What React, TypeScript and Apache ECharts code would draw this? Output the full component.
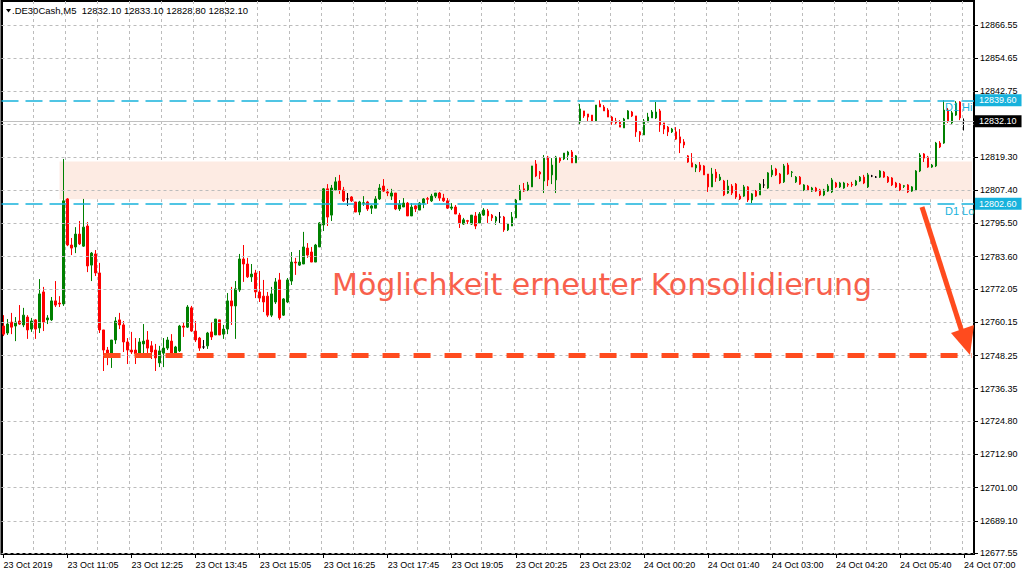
import React, { useEffect, useRef } from 'react';
import * as echarts from 'echarts';

// ---- axis texts ----
const tickLabels = [
  '23 Oct 2019', '23 Oct 11:05', '23 Oct 12:25', '23 Oct 13:45', '23 Oct 15:05',
  '23 Oct 16:25', '23 Oct 17:45', '23 Oct 19:05', '23 Oct 20:25', '23 Oct 23:02',
  '24 Oct 00:20', '24 Oct 01:40', '24 Oct 03:00', '24 Oct 04:20', '24 Oct 05:40', '24 Oct 07:00',
];
const yLabelValues = [
  12866.55, 12854.65, 12842.75, 12819.3, 12807.4, 12795.5, 12783.6, 12772.05,
  12760.15, 12748.25, 12736.35, 12724.8, 12712.9, 12701.0, 12689.1, 12677.55,
];
const yHiddenGridValue = 12830.85;
const Y_MIN = 12677.2;
const Y_MAX = 12875.14;

// ---- levels ----
const d1High = 12839.6;
const d1Low = 12802.6;
const lastPrice = 12832.1;
const targetLevel = 12748.25;
const zoneLow = 12804.2;
const zoneHigh = 12817.7;
const headerText = '.DE30Cash,M5  12832.10 12833.10 12828.80 12832.10';
const noteText = 'Möglichkeit erneuter Konsolidierung';

// ---- candles [open, close, low, high] ----
const morningBars = [
  [12758.8, 12755.9, 12755.2, 12762.7], [12756.3, 12759.5, 12755.6, 12761.3], [12760.2, 12758.4, 12755.9, 12763.5],
  [12758.8, 12760.2, 12753.4, 12762.0], [12760.6, 12759.5, 12759.2, 12766.3], [12759.2, 12762.7, 12758.4, 12765.3],
  [12762.0, 12757.4, 12754.2, 12762.7], [12757.7, 12760.6, 12756.7, 12761.7], [12761.0, 12757.7, 12754.2, 12761.3],
  [12758.1, 12770.3, 12756.3, 12775.6], [12771.0, 12760.2, 12757.0, 12772.8], [12761.0, 12761.7, 12759.5, 12762.7],
  [12761.0, 12767.8, 12760.6, 12769.2], [12767.8, 12766.3, 12765.6, 12774.9], [12767.0, 12766.7, 12765.6, 12769.5],
  [12766.7, 12803.6, 12766.0, 12818.6], [12804.3, 12787.8, 12787.4, 12804.6], [12787.8, 12786.7, 12784.2, 12790.3],
  [12787.1, 12791.7, 12784.9, 12794.2], [12791.7, 12788.2, 12787.8, 12796.4], [12787.4, 12794.2, 12787.1, 12804.3],
  [12794.6, 12780.3, 12778.1, 12796.0], [12780.6, 12784.9, 12774.9, 12785.3], [12784.6, 12777.8, 12776.7, 12786.0],
  [12777.8, 12757.4, 12756.3, 12781.4], [12757.4, 12750.2, 12742.7, 12757.4], [12750.2, 12748.4, 12744.8, 12751.3],
  [12748.4, 12753.8, 12743.8, 12753.8], [12753.8, 12760.6, 12752.4, 12762.0], [12761.0, 12759.2, 12757.7, 12763.5],
  [12759.2, 12753.1, 12749.5, 12760.6], [12753.1, 12750.2, 12745.2, 12754.5], [12750.2, 12749.5, 12748.8, 12756.7],
  [12750.2, 12748.8, 12745.2, 12754.5], [12748.8, 12753.1, 12748.4, 12754.5], [12752.4, 12753.4, 12748.8, 12759.5],
  [12753.8, 12750.9, 12748.8, 12757.0], [12751.7, 12749.5, 12747.0, 12753.4], [12750.2, 12747.4, 12742.7, 12752.4],
  [12745.6, 12749.9, 12744.1, 12751.7], [12749.1, 12750.9, 12744.1, 12754.5], [12750.9, 12753.8, 12750.2, 12754.9],
  [12753.4, 12749.1, 12748.8, 12755.9], [12749.1, 12751.3, 12748.8, 12751.7], [12749.9, 12758.8, 12749.5, 12759.2],
  [12758.8, 12758.4, 12754.9, 12760.2], [12758.4, 12765.6, 12758.1, 12766.3], [12765.3, 12757.0, 12756.7, 12766.0],
  [12757.0, 12753.8, 12753.1, 12760.6], [12754.5, 12750.9, 12749.9, 12754.9], [12751.3, 12751.3, 12750.6, 12753.8],
  [12751.7, 12756.3, 12750.6, 12756.7], [12756.7, 12754.9, 12753.8, 12760.2], [12755.6, 12761.3, 12755.6, 12761.3],
  [12761.0, 12755.6, 12755.6, 12761.0], [12755.9, 12757.7, 12754.2, 12759.2], [12757.7, 12767.8, 12755.9, 12770.6],
  [12767.8, 12766.0, 12759.2, 12772.8], [12766.0, 12772.1, 12754.2, 12774.9], [12771.7, 12782.8, 12771.0, 12784.6],
  [12782.8, 12781.0, 12774.6, 12787.8], [12781.0, 12776.4, 12776.0, 12783.2], [12776.4, 12777.4, 12774.6, 12781.0],
  [12777.8, 12771.0, 12768.8, 12778.9], [12771.0, 12768.8, 12767.4, 12778.5], [12769.5, 12767.4, 12763.8, 12775.3],
  [12769.5, 12762.7, 12762.0, 12771.0], [12762.7, 12770.3, 12762.0, 12772.8], [12767.4, 12774.6, 12766.7, 12776.0],
  [12775.3, 12761.7, 12761.0, 12777.8], [12762.7, 12768.5, 12762.4, 12768.8], [12767.4, 12775.3, 12767.0, 12776.0],
  [12774.9, 12781.7, 12773.5, 12785.3], [12781.7, 12781.4, 12777.1, 12783.2], [12780.6, 12781.7, 12780.3, 12786.0],
  [12781.0, 12787.1, 12781.0, 12792.5], [12786.7, 12784.2, 12783.2, 12788.5], [12785.3, 12781.7, 12781.7, 12787.1],
  [12781.7, 12787.8, 12781.7, 12788.2], [12787.1, 12795.7, 12787.1, 12796.0],
];
const eveningBars = [
  [12795.0, 12807.9, 12792.8, 12808.2], [12807.9, 12797.8, 12794.6, 12809.6], [12798.5, 12808.2, 12796.4, 12809.3],
  [12807.5, 12810.4, 12807.5, 12812.1], [12810.7, 12807.5, 12806.1, 12812.9], [12807.5, 12803.6, 12803.2, 12808.6],
  [12804.3, 12804.3, 12801.8, 12806.4], [12805.0, 12803.6, 12803.2, 12805.3], [12803.2, 12799.6, 12799.6, 12803.2],
  [12799.6, 12803.2, 12798.5, 12803.6], [12802.7, 12802.9, 12801.8, 12805.3], [12803.2, 12800.7, 12800.0, 12803.6],
  [12801.0, 12801.8, 12798.9, 12802.1], [12801.0, 12804.3, 12801.0, 12805.3], [12804.3, 12808.2, 12803.9, 12809.6],
  [12808.9, 12807.1, 12806.8, 12811.4], [12806.8, 12806.4, 12805.3, 12807.9], [12805.3, 12806.4, 12803.9, 12807.9],
  [12806.4, 12800.7, 12800.3, 12806.4], [12800.7, 12802.5, 12800.0, 12803.9], [12801.4, 12802.8, 12801.4, 12804.6],
  [12802.8, 12798.2, 12798.2, 12803.2], [12798.2, 12801.4, 12798.2, 12802.8], [12801.8, 12800.7, 12799.6, 12802.1],
  [12800.3, 12802.8, 12800.3, 12803.2], [12802.8, 12804.3, 12801.0, 12804.6], [12804.4, 12804.2, 12802.5, 12805.0],
  [12803.6, 12805.3, 12803.2, 12806.1], [12805.3, 12806.4, 12804.6, 12806.4], [12806.4, 12804.6, 12803.6, 12806.8],
  [12804.6, 12803.6, 12803.2, 12806.1], [12803.6, 12801.0, 12800.7, 12804.6], [12801.0, 12801.4, 12800.3, 12802.8],
  [12801.4, 12798.9, 12798.9, 12802.1], [12798.5, 12795.7, 12793.9, 12799.3], [12795.3, 12796.8, 12795.0, 12797.5],
  [12796.5, 12796.3, 12795.3, 12796.8], [12795.3, 12798.5, 12795.0, 12798.5], [12798.2, 12794.6, 12793.5, 12799.6],
  [12795.7, 12798.9, 12795.7, 12799.6], [12798.5, 12800.3, 12798.2, 12801.0], [12800.0, 12798.2, 12795.7, 12800.7],
  [12798.5, 12797.5, 12796.4, 12798.9], [12796.4, 12797.8, 12795.0, 12798.2], [12797.8, 12797.8, 12795.7, 12799.6],
  [12797.8, 12793.2, 12792.5, 12798.2], [12793.2, 12795.3, 12792.8, 12795.7], [12794.6, 12797.8, 12794.6, 12799.6],
  [12797.5, 12803.9, 12797.5, 12804.3], [12803.9, 12807.5, 12803.9, 12809.3], [12807.9, 12807.1, 12806.8, 12810.0],
  [12807.5, 12809.3, 12807.1, 12810.4], [12808.6, 12816.1, 12808.6, 12816.1], [12816.8, 12812.5, 12812.1, 12818.2],
  [12813.9, 12813.2, 12811.4, 12814.3], [12810.7, 12818.9, 12806.4, 12820.0], [12819.3, 12811.1, 12808.9, 12819.7],
  [12812.9, 12816.4, 12809.6, 12818.9], [12811.1, 12819.3, 12806.4, 12819.7], [12818.9, 12817.9, 12817.2, 12819.3],
  [12818.6, 12820.7, 12818.2, 12820.7], [12820.0, 12821.1, 12818.2, 12821.5], [12821.1, 12817.2, 12817.2, 12821.8],
  [12817.2, 12819.7, 12817.2, 12820.0],
];
const nightBars = [
  [12831.8, 12836.5, 12830.8, 12838.3], [12835.8, 12834.0, 12833.3, 12835.8], [12834.7, 12833.6, 12832.2, 12834.7],
  [12834.3, 12832.2, 12831.8, 12834.3], [12832.2, 12837.9, 12832.2, 12837.9], [12838.3, 12837.2, 12837.2, 12839.6],
  [12837.2, 12835.8, 12835.8, 12837.9], [12836.1, 12833.6, 12833.6, 12836.8], [12833.6, 12831.8, 12830.8, 12834.0],
  [12832.2, 12831.5, 12830.8, 12833.3], [12831.8, 12830.0, 12830.0, 12832.5], [12829.7, 12832.9, 12829.7, 12833.3],
  [12832.9, 12835.8, 12832.9, 12836.1], [12835.4, 12834.0, 12833.6, 12835.8], [12834.0, 12828.3, 12826.5, 12834.0],
  [12828.3, 12827.2, 12824.7, 12828.6], [12827.2, 12832.2, 12827.2, 12832.9], [12831.8, 12833.6, 12831.8, 12835.1],
  [12833.3, 12835.4, 12833.3, 12836.1], [12833.3, 12835.4, 12832.9, 12839.0], [12835.8, 12830.8, 12828.3, 12836.5],
  [12831.5, 12829.3, 12827.5, 12831.5], [12830.0, 12828.3, 12826.8, 12830.4], [12828.3, 12829.3, 12827.9, 12829.7],
  [12828.3, 12825.7, 12825.4, 12830.0], [12826.5, 12824.3, 12820.7, 12829.3], [12824.7, 12823.6, 12822.5, 12825.7],
  [12819.7, 12817.5, 12817.2, 12820.0], [12817.2, 12815.7, 12815.7, 12820.7], [12815.4, 12816.4, 12813.9, 12816.8],
  [12816.4, 12814.6, 12813.9, 12817.5], [12816.1, 12812.9, 12812.9, 12816.4], [12813.2, 12808.6, 12806.8, 12813.2],
  [12808.6, 12813.2, 12808.6, 12815.4], [12813.9, 12811.8, 12810.4, 12815.0], [12811.1, 12812.1, 12810.7, 12813.2],
  [12810.7, 12805.7, 12805.3, 12811.1], [12806.4, 12808.9, 12806.1, 12811.1], [12808.9, 12806.4, 12805.7, 12809.6],
  [12809.6, 12805.0, 12804.3, 12810.0], [12805.3, 12804.3, 12803.9, 12806.1], [12805.3, 12808.6, 12805.0, 12809.3],
  [12808.6, 12803.9, 12803.2, 12808.9], [12803.9, 12806.1, 12802.8, 12806.4], [12807.1, 12805.3, 12805.0, 12807.5],
  [12805.7, 12809.6, 12805.7, 12810.0], [12809.3, 12809.3, 12808.2, 12811.4], [12808.2, 12813.6, 12807.9, 12813.9],
  [12812.9, 12814.6, 12812.1, 12816.4], [12815.0, 12812.9, 12812.5, 12815.4], [12813.2, 12810.0, 12809.6, 12813.6],
  [12810.4, 12816.1, 12810.0, 12816.8], [12816.4, 12813.2, 12812.9, 12817.2], [12813.8, 12813.9, 12812.1, 12814.3],
  [12810.4, 12812.1, 12810.0, 12812.5], [12812.1, 12809.6, 12809.3, 12812.5], [12807.5, 12809.3, 12807.1, 12809.6],
  [12808.9, 12807.5, 12807.1, 12809.3], [12807.1, 12808.2, 12806.8, 12808.6], [12808.2, 12807.1, 12806.8, 12808.6],
  [12807.5, 12805.7, 12805.3, 12807.9], [12805.7, 12807.5, 12805.3, 12807.9], [12807.1, 12808.9, 12806.8, 12809.6],
  [12806.8, 12811.1, 12806.4, 12811.8], [12810.0, 12808.6, 12808.2, 12810.4], [12808.6, 12810.0, 12808.2, 12810.4],
  [12808.2, 12810.0, 12807.9, 12810.4], [12809.5, 12809.3, 12808.6, 12810.0], [12809.5, 12809.3, 12808.6, 12810.4],
  [12809.3, 12810.7, 12808.9, 12811.1], [12810.7, 12812.1, 12810.4, 12812.5], [12812.1, 12810.0, 12809.6, 12812.9],
  [12808.6, 12812.9, 12808.2, 12813.6], [12812.5, 12812.5, 12812.1, 12812.9], [12812.1, 12812.1, 12811.8, 12812.5],
  [12812.1, 12814.3, 12811.8, 12814.6], [12813.9, 12812.1, 12811.8, 12814.3], [12812.1, 12810.4, 12810.0, 12812.5],
  [12811.8, 12809.3, 12808.9, 12812.1], [12810.0, 12808.6, 12808.2, 12810.4], [12809.6, 12807.5, 12807.1, 12810.0],
  [12808.8, 12809.0, 12808.2, 12809.3], [12809.3, 12806.8, 12806.4, 12809.6], [12807.1, 12808.6, 12806.8, 12808.9],
  [12807.5, 12814.3, 12807.1, 12814.6], [12814.3, 12820.0, 12813.9, 12820.7], [12820.4, 12818.9, 12817.5, 12820.7],
  [12819.3, 12815.7, 12815.4, 12819.7], [12815.7, 12816.4, 12815.4, 12816.8], [12816.1, 12824.3, 12815.7, 12824.7],
  [12824.3, 12822.9, 12822.5, 12825.0], [12824.3, 12836.1, 12824.0, 12839.6], [12836.1, 12832.2, 12831.5, 12836.8],
  [12831.5, 12835.1, 12831.1, 12835.8], [12834.3, 12838.6, 12834.0, 12839.3], [12839.0, 12833.3, 12832.5, 12839.3],
  [12832.1, 12832.1, 12828.8, 12833.1],
];

const bars = [...morningBars, ...eveningBars, ...nightBars];
const EXTRA_SLOTS = 2; // empty chart shift on the right
const categories = Array.from({ length: bars.length + EXTRA_SLOTS }, (_, i) => String(i));
const TARGET_START = '25';

const FONT = 'Liberation Sans, Arial, sans-serif';
const CYAN = '#17b2dc';
const ORANGE = '#ff4b1e';
const GREEN = '#008000';
const RED = '#ff0000';
const GRID_GREY = '#bcbcbc';

export default function App() {
  const ref = useRef<HTMLDivElement>(null);

  useEffect(() => {
    document.body.style.margin = '0';
    const chart = echarts.init(ref.current!, null, { renderer: 'svg' });
    const priceLabel = (bg: string) => ({
      show: true,
      position: 'end',
      formatter: (p: any) => Number(p.value).toFixed(2),
      backgroundColor: bg,
      color: '#ffffff',
      fontFamily: FONT,
      fontSize: 9,
      padding: [2, 5, 1, 4],
      distance: 1,
    });

    chart.setOption({
      animation: false,
      backgroundColor: '#ffffff',
      grid: {
        left: 1.5, right: 50, top: 1, bottom: 22,
        show: true, borderColor: '#000000', borderWidth: 2, backgroundColor: 'transparent',
      },
      xAxis: {
        type: 'category',
        data: categories,
        boundaryGap: true,
        z: 1,
        axisLine: { show: true, lineStyle: { color: '#000000', width: 1 } },
        axisTick: { show: true, interval: 15, alignWithLabel: true, length: 4, lineStyle: { color: '#000000' } },
        axisLabel: {
          interval: 15,
          align: 'left',
          margin: 6,
          color: '#000000',
          fontFamily: FONT,
          fontSize: 9,
          formatter: (_v: string, idx: number) => tickLabels[idx / 16] ?? '',
        },
        splitLine: { show: true, interval: 7, lineStyle: { color: GRID_GREY, type: [3, 3], width: 1 } },
      },
      yAxis: [
        {
          type: 'value',
          position: 'right',
          min: Y_MIN,
          max: Y_MAX,
          z: 1,
          axisLine: { show: true, lineStyle: { color: '#000000', width: 1 } },
          axisTick: { show: true, customValues: yLabelValues, length: 4, lineStyle: { color: '#000000' } },
          axisLabel: {
            customValues: yLabelValues,
            margin: 6,
            color: '#000000',
            fontFamily: FONT,
            fontSize: 9,
            formatter: (v: number) => v.toFixed(2),
          },
          splitLine: { show: false },
        },
        {
          type: 'value',
          position: 'left',
          min: Y_MIN,
          max: Y_MAX,
          z: 2,
          axisLine: { show: true, onZero: false, lineStyle: { color: '#000000', width: 2 } },
          axisTick: { show: false },
          axisLabel: { show: false },
          splitLine: { show: false },
        },
      ],
      series: [
        {
          name: 'zone',
          type: 'line',
          data: [],
          z: 0,
          silent: true,
          markArea: {
            silent: true,
            itemStyle: { color: '#fdebe3' },
            data: [[{ xAxis: '14', yAxis: zoneHigh }, { xAxis: categories[categories.length - 1], yAxis: zoneLow }]],
          },
        },
        {
          name: 'hgrid',
          type: 'line',
          data: [],
          z: 1,
          silent: true,
          markLine: {
            silent: true,
            symbol: 'none',
            label: { show: false },
            lineStyle: { color: GRID_GREY, type: [3, 3], width: 1 },
            data: [...yLabelValues, yHiddenGridValue].map((v) => ({ yAxis: v })),
          },
        },
        {
          name: 'DE30',
          type: 'candlestick',
          data: bars,
          z: 3,
          barWidth: 2,
          itemStyle: {
            color: GREEN,
            color0: RED,
            borderColor: GREEN,
            borderColor0: RED,
            borderColorDoji: '#000000',
            borderWidth: 1,
          },
        },
        {
          name: 'levels',
          type: 'line',
          data: [],
          z: 4,
          silent: true,
          markLine: {
            silent: true,
            symbol: 'none',
            data: [
              { yAxis: lastPrice, lineStyle: { color: '#c0c0c0', type: 'solid', width: 1 }, label: priceLabel('#000000') },
              { yAxis: d1High, lineStyle: { color: CYAN, type: [17, 7], width: 1.5 }, label: priceLabel(CYAN) },
              { yAxis: d1Low, lineStyle: { color: CYAN, type: [17, 7], width: 1.5 }, label: priceLabel(CYAN) },
              [
                { coord: [TARGET_START, targetLevel], lineStyle: { color: ORANGE, type: [17, 14], width: 5 }, label: { show: false } },
                { coord: [categories[categories.length - 1], targetLevel] },
              ],
            ],
          },
        },
      ],
      graphic: [
        { type: 'polygon', shape: { points: [[6, 9], [11, 9], [8.5, 12.5]] }, style: { fill: '#000000' }, z: 10 },
        {
          type: 'text', x: 12, y: 10, z: 10,
          style: { text: headerText, fill: '#000000', font: `9.5px ${FONT}`, verticalAlign: 'middle', align: 'left' },
        },
        {
          type: 'text', x: 945, y: 101, z: 10,
          style: { text: 'D1 High', fill: CYAN, font: `11px ${FONT}`, verticalAlign: 'top', width: 33, overflow: 'truncate', ellipsis: '' },
        },
        {
          type: 'text', x: 945, y: 205, z: 10,
          style: { text: 'D1 Low', fill: CYAN, font: `11px ${FONT}`, verticalAlign: 'top', width: 33, overflow: 'truncate', ellipsis: '' },
        },
        {
          type: 'text', x: 332, y: 284, z: 10,
          style: { text: noteText, fill: '#f8604c', font: '30px DejaVu Sans, sans-serif', verticalAlign: 'middle', align: 'left' },
        },
        {
          type: 'line', z: 10,
          shape: { x1: 922, y1: 207, x2: 962, y2: 332 },
          style: { stroke: ORANGE, lineWidth: 5 },
        },
        {
          type: 'polygon', z: 10,
          shape: { points: [[951, 333], [974, 325], [970, 355]] },
          style: { fill: ORANGE },
        },
      ],
    });
    return () => chart.dispose();
  }, []);

  return (
    <div
      ref={ref}
      style={{ position: 'fixed', left: 0, top: 0, width: 1024, height: 576, background: '#ffffff' }}
    />
  );
}
